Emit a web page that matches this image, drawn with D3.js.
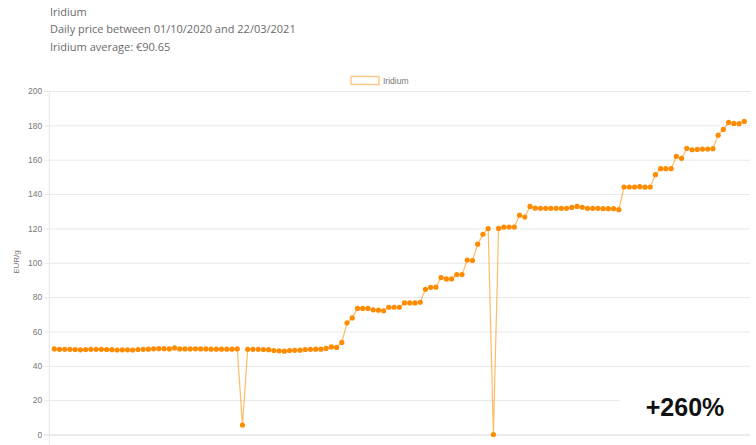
<!DOCTYPE html>
<html>
<head>
<meta charset="utf-8">
<script src="https://cdn.jsdelivr.net/npm/d3@7"></script>
<style>
html,body{margin:0;padding:0;background:#fff;}
svg{display:block;}
</style>
</head>
<body>
<svg id="chart" width="756" height="445"></svg>
<script>
const titleLines = ["Iridium", "Daily price between 01/10/2020 and 22/03/2021", "Iridium average: €90.65"];
const seriesName = "Iridium";
const yLabel = "EUR/g";
const yTicks = [0, 20, 40, 60, 80, 100, 120, 140, 160, 180, 200];
const changeLabel = "+260%";
const prices = [
  49.8,49.6,49.6,49.6,49.5,49.3,49.5,49.6,49.6,49.6,49.5,49.4,49.2,49.3,49.3,49.2,49.5,49.6,49.7,49.9,
  50.0,50.0,49.8,50.4,49.8,49.8,49.8,49.9,49.8,49.8,49.7,49.7,49.7,49.7,49.7,49.8,
  5.5,
  49.6,49.6,49.6,49.5,49.4,48.9,48.7,48.5,48.9,49.0,49.1,49.5,49.6,49.7,49.7,50.1,51.0,50.7,53.6,
  65.0,67.9,73.4,73.4,73.4,72.6,72.4,72.0,74.1,74.1,74.1,76.6,76.6,76.6,77.0,84.5,85.7,85.8,91.4,90.6,
  90.6,93.1,93.1,101.6,101.3,110.8,116.6,119.9,0,
  120.0,120.7,120.8,120.8,127.7,126.6,132.8,131.8,131.7,131.7,131.7,131.7,131.7,131.7,132.2,132.8,
  132.3,131.7,131.7,131.7,131.5,131.5,131.5,130.9,
  144.1,144.1,144.1,144.3,144.0,144.1,151.3,154.8,154.8,154.8,161.9,160.8,166.6,165.8,166.0,166.2,
  166.2,166.4,174.3,177.6,181.7,181.1,181.0,182.3
];
const days = prices.map((_, i) => i);

const svg = d3.select("#chart");
const plotLeft = 49.3, plotRight = 750, plotTop = 91, plotBottom = 434.5;

// header
svg.append("g").selectAll("text").data(titleLines).join("text")
  .attr("x", 50).attr("y", (d, i) => 15.5 + i * 17.5)
  .attr("font-family", "'Open Sans', sans-serif").attr("font-size", 11)
  .attr("fill", "#6a6a6a").text(d => d);

const x = d3.scalePoint().domain(days).range([54.3, 744.3]);
const y = d3.scaleLinear().domain([0, 200]).range([plotBottom, plotTop]);

// grid + y axis
const yAxis = d3.axisLeft(y).tickValues(yTicks).tickSize(-(plotRight - plotLeft)).tickPadding(7);
const gy = svg.append("g").attr("transform", `translate(${plotLeft},0)`).call(yAxis);
gy.select(".domain").remove();
gy.selectAll(".tick line").attr("stroke", d => d === 0 ? "#d8d8d8" : "#e8e8e8").attr("x1", -5);
gy.selectAll(".tick text").attr("font-family", "'Liberation Sans', Arial, sans-serif")
  .attr("font-size", 8.5).attr("fill", "#777");
svg.append("line").attr("x1", plotLeft).attr("x2", plotLeft).attr("y1", plotTop).attr("y2", plotBottom + 10)
  .attr("stroke", "#e8e8e8");

// y label
svg.append("text").attr("transform", `translate(18.5,262) rotate(-90)`).attr("text-anchor", "middle")
  .attr("font-family", "'Liberation Sans', Arial, sans-serif").attr("font-size", 8).attr("fill", "#777").text(yLabel);

// legend
svg.append("rect").attr("x", 351).attr("y", 76.5).attr("width", 28).attr("height", 8)
  .attr("fill", "#fff").attr("stroke", "#ffc98a").attr("stroke-width", 1.5);
svg.append("text").attr("x", 383).attr("y", 83.5)
  .attr("font-family", "'Liberation Sans', Arial, sans-serif").attr("font-size", 8.5).attr("fill", "#777").text(seriesName);

// line
const line = d3.line().x((d, i) => x(days[i])).y(d => y(d));
svg.append("path").datum(prices).attr("d", line).attr("fill", "none")
  .attr("stroke", "rgba(255,140,0,0.6)").attr("stroke-width", 1.2);
svg.append("g").selectAll("circle").data(prices).join("circle")
  .attr("cx", (d, i) => x(days[i])).attr("cy", d => y(d)).attr("r", 2.6)
  .attr("fill", "#ff8c00");

// change label
svg.append("rect").attr("x", 620).attr("y", 378).attr("width", 136).attr("height", 50).attr("fill", "#fff");
svg.append("text").attr("x", 685).attr("y", 416).attr("text-anchor", "middle")
  .attr("font-family", "'Liberation Sans', Arial, sans-serif").attr("font-weight", "bold")
  .attr("font-size", 25).attr("fill", "#111").text(changeLabel);
</script>
</body>
</html>
